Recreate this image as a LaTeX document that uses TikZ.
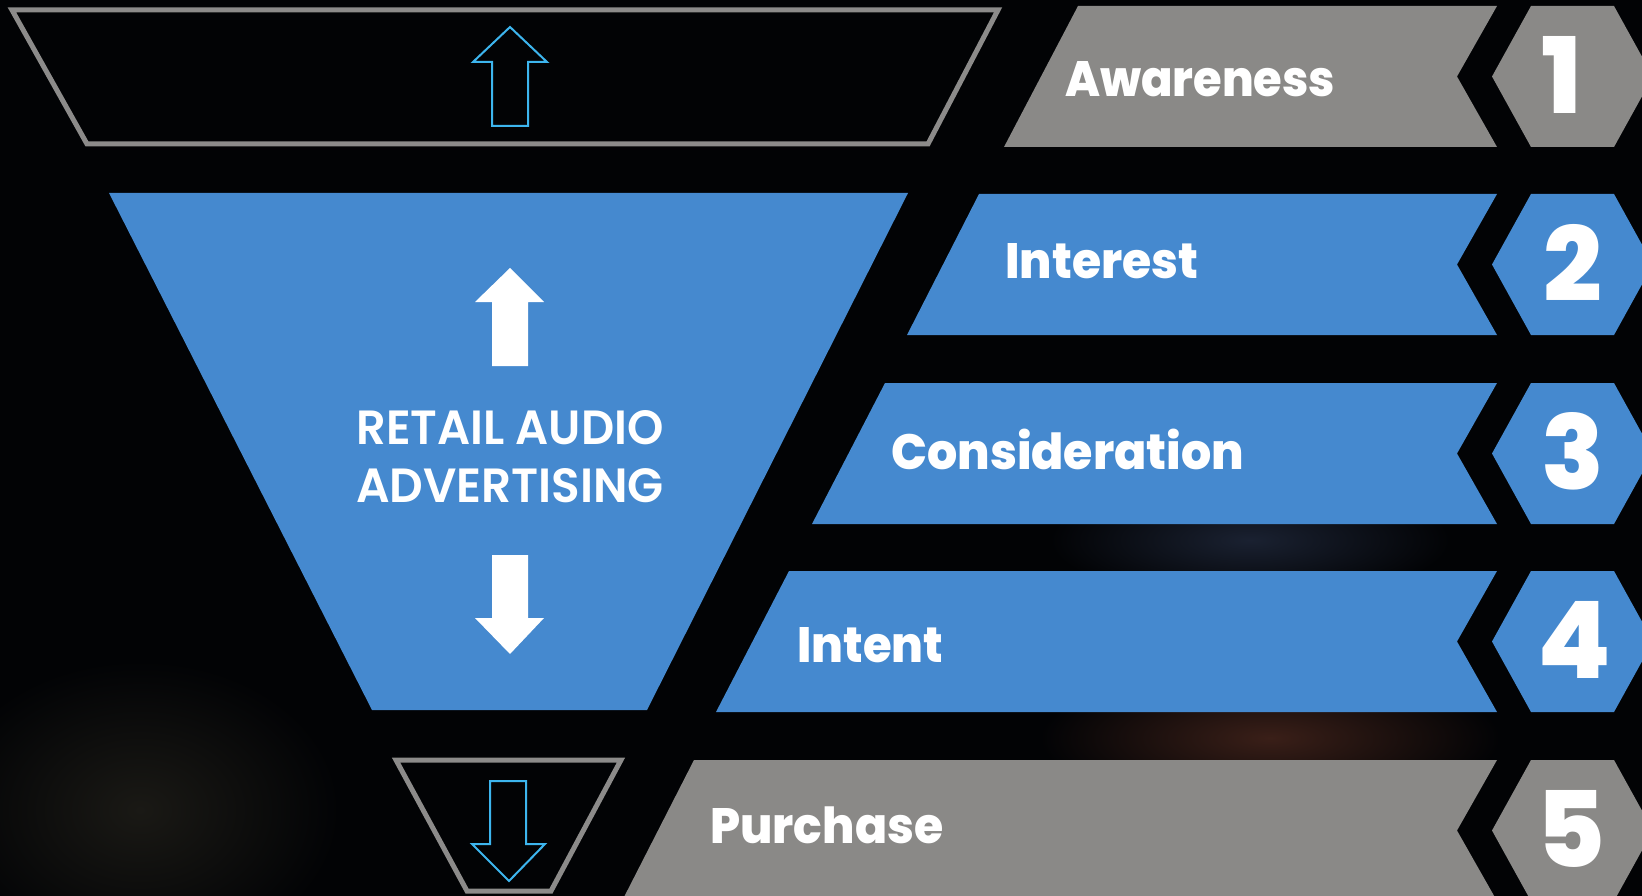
\documentclass[tikz,border=0pt]{standalone}
\usepackage{fontspec}
\setmainfont{Poppins}
\usepackage{graphicx}
% heavier cuts of the family when they are available
\IfFontExistsTF{Poppins ExtraBold}
  {\newfontfamily\heavyfont{Poppins ExtraBold}}
  {\newcommand\heavyfont{\bfseries}}
\IfFontExistsTF{Poppins SemiBold}
  {\newfontfamily\midfont{Poppins SemiBold}}
  {\newcommand\midfont{\bfseries}}
\definecolor{bgdark}{HTML}{020305}
\definecolor{funnelblue}{HTML}{4589CF}
\definecolor{bargray}{HTML}{8A8987}
\definecolor{rimgray}{HTML}{8C8B8A}
\definecolor{arrowcyan}{HTML}{3DB5EE}
\definecolor{glowred}{HTML}{3A1F18}
\definecolor{glowblue}{HTML}{1A2131}
\definecolor{glowgray}{HTML}{1A1915}
\tikzset{
  bluepart/.style={fill=funnelblue},
  graypart/.style={fill=bargray},
  rimbox/.style={draw=rimgray, line width=5pt, line join=miter},
  hollowarrow/.style={draw=arrowcyan, line width=2pt, line join=miter},
  solidarrow/.style={fill=white},
  stagelabel/.style={text=white, anchor=base west, inner sep=0pt},
  stagenum/.style={text=white, anchor=center, inner sep=0pt},
  centrelabel/.style={text=white, anchor=base, inner sep=0pt},
}
% stage caption set to a given ink width and cap height
\newcommand{\stagetext}[2]{%
  \resizebox{#1pt}{35pt}{\fontsize{50}{60}\selectfont\heavyfont\smash{#2}\vphantom{A}}}
% one stage bar with its notched right end and numbered hexagon
% #1 top y, #2 top-left x, #3 bottom-left x, #4 style, #5 node name,
% #6 number, #7 x of the number
\newcommand{\stagerow}[7]{%
  \pgfmathsetmacro{\rtop}{#1}%
  \pgfmathsetmacro{\rbot}{#1+141}%
  \pgfmathsetmacro{\rmid}{#1+70.5}%
  \fill[#4] (#2,\rtop) -- (1497,\rtop) -- (1457,\rmid) -- (1497,\rbot)
    -- (#3,\rbot) -- cycle;
  \fill[#4] (1492,\rmid) -- (1531,\rtop) -- (1614,\rtop) -- (1653,\rmid)
    -- (1614,\rbot) -- (1531,\rbot) -- cycle;
  \node[stagenum] (#5) at (#7,\rmid-2)
    {\resizebox{!}{77pt}{\heavyfont #6}};%
}
\begin{document}
\begin{tikzpicture}[x=1pt,y=-1pt]
  \clip (0,0) rectangle (1642,896);
  \fill[bgdark] (0,0) rectangle (1642,896);

  % soft glows in the background
  \shade[inner color=glowred, outer color=bgdark]
    (1270,738) ellipse [x radius=230pt, y radius=70pt];
  \shade[inner color=glowblue, outer color=bgdark]
    (1250,540) ellipse [x radius=200pt, y radius=60pt];
  \shade[inner color=glowgray, outer color=bgdark]
    (140,810) ellipse [x radius=200pt, y radius=150pt];

  % top outlined section with hollow up arrow
  \draw[rimbox] (12,10) -- (998,10) -- (928,144) -- (87,144) -- cycle;
  \draw[hollowarrow] (510,27) -- (547,62) -- (528,62) -- (528,126)
    -- (492,126) -- (492,62) -- (473,62) -- cycle;

  % main blue funnel section
  \fill[bluepart] (109,193) -- (908,193) -- (647,710) -- (372,710) -- cycle;
  \fill[solidarrow] (510,268) -- (544,302) -- (528,302) -- (528,366)
    -- (492,366) -- (492,302) -- (475,302) -- cycle;
  \fill[solidarrow] (510,654) -- (544,618) -- (528,618) -- (528,555)
    -- (492,555) -- (492,618) -- (475,618) -- cycle;
  \node[centrelabel] (retail) at (510,444)
    {\resizebox{307pt}{34pt}{\fontsize{48}{56}\selectfont\midfont RETAIL AUDIO}};
  \node[centrelabel] (advert) at (510,502)
    {\resizebox{308pt}{34pt}{\fontsize{48}{56}\selectfont\midfont ADVERTISING}};

  % bottom outlined section with hollow down arrow
  \draw[rimbox] (396,760) -- (621,760) -- (551,891) -- (467,891) -- cycle;
  \draw[hollowarrow] (509,881) -- (545,844) -- (526,844) -- (526,781)
    -- (490,781) -- (490,844) -- (472,844) -- cycle;

  % stage bars
  \stagerow{6}{1078}{1004}{graypart}{n1}{1}{1562}
  \stagerow{194}{979}{907}{bluepart}{n2}{2}{1573}
  \stagerow{383}{885}{812}{bluepart}{n3}{3}{1573}
  \stagerow{571}{789}{716}{bluepart}{n4}{4}{1574}
  \stagerow{760}{694}{622}{graypart}{n5}{5}{1571}

  \node[stagelabel] (awareness) at (1065,97) {\stagetext{270}{Awareness}};
  \node[stagelabel] (interest) at (1005,278) {\stagetext{193}{Interest}};
  \node[stagelabel] (consideration) at (891,469) {\stagetext{353}{Consideration}};
  \node[stagelabel] (intent) at (797,662) {\stagetext{146}{Intent}};
  \node[stagelabel] (purchase) at (710,843) {\stagetext{233}{Purchase}};
\end{tikzpicture}
\end{document}
